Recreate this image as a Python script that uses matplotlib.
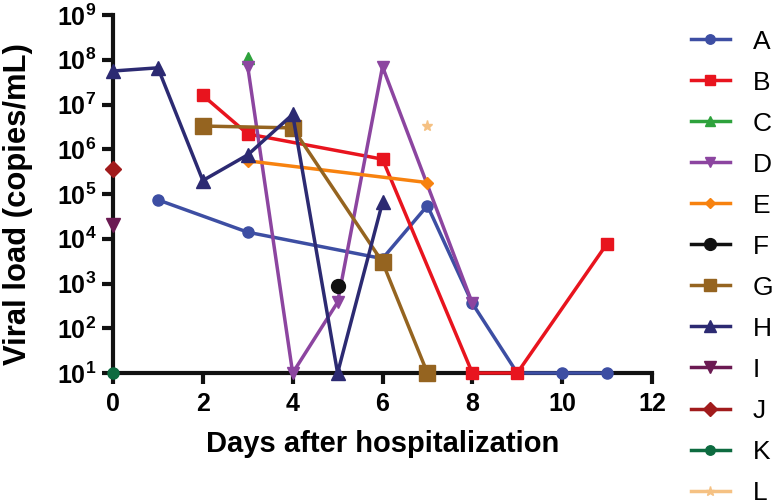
import numpy as np
import matplotlib
matplotlib.use("Agg")
import matplotlib.pyplot as plt
from matplotlib.ticker import FixedLocator, FuncFormatter

plt.rcParams['font.family'] = ['Liberation Sans', 'DejaVu Sans']
plt.rcParams['mathtext.fontset'] = 'custom'
plt.rcParams['mathtext.rm'] = 'Liberation Sans:bold'
plt.rcParams['mathtext.bf'] = 'Liberation Sans:bold'

# ---- data ----
names = ["A", "B", "C", "D", "E", "F", "G", "H", "I", "J", "K", "L"]
A_days = [1, 3, 6, 7, 8, 9, 10, 11]
A_vals = [7.4e4, 1.4e4, 3.6e3, 5.5e4, 3.6e2, 10, 10, 10]
B_days = [2, 3, 6, 8, 9, 11]
B_vals = [1.6e7, 2.2e6, 6.0e5, 10, 10, 7.8e3]
C_days = [3]
C_vals = [1.1e8]
D_days = [3, 4, 5, 6, 8]
D_vals = [7.0e7, 10, 3.8e2, 7.0e7, 3.6e2]
E_days = [3, 7]
E_vals = [5.5e5, 1.8e5]
F_days = [5]
F_vals = [9.0e2]
G_days = [2, 4, 6, 7]
G_vals = [3.3e6, 3.0e6, 3.0e3, 10]
H_days = [0, 1, 2, 3, 4, 5, 6]
H_vals = [5.6e7, 6.6e7, 2.0e5, 7.5e5, 6.0e6, 10, 6.5e4]
I_days = [0]
I_vals = [2.0e4]
J_days = [0]
J_vals = [3.6e5]
K_days = [0]
K_vals = [10]
L_days = [7]
L_vals = [3.3e6]

series_days = [A_days, B_days, C_days, D_days, E_days, F_days, G_days, H_days, I_days, J_days, K_days, L_days]
series_vals = [A_vals, B_vals, C_vals, D_vals, E_vals, F_vals, G_vals, H_vals, I_vals, J_vals, K_vals, L_vals]

colors = ["#3d4ea3", "#e8141e", "#2ea23c", "#8c45a0", "#f7820f", "#111111",
          "#956420", "#2c2a72", "#6b1a52", "#a11b1c", "#0d6b40", "#f5c183"]
markers = ["o", "s", "^", "v", "D", "o", "s", "^", "v", "D", "o", "*"]
msizes = [8, 9, 9, 9, 6, 10, 11, 10, 10, 8, 8, 8]

x_ticks = [0, 2, 4, 6, 8, 10, 12]
y_ticks = [1e1, 1e2, 1e3, 1e4, 1e5, 1e6, 1e7, 1e8, 1e9]

fig = plt.figure(figsize=(7.74, 5.04), dpi=100)
ax = fig.add_axes([113/774, 1 - 373/504, (652-113)/774, (373-15)/504])

for i, name in enumerate(names):
    ax.plot(series_days[i], series_vals[i], color=colors[i], marker=markers[i],
            markersize=msizes[i], linewidth=2.5, label=name, clip_on=False, zorder=3)

ax.set_yscale('log')
ax.set_xlim(0, 12)
ax.set_ylim(1e1, 1e9)
ax.xaxis.set_major_locator(FixedLocator(x_ticks))
ax.yaxis.set_major_locator(FixedLocator(y_ticks))
ax.yaxis.set_minor_locator(FixedLocator([]))
ax.yaxis.set_major_formatter(FuncFormatter(lambda v, p: r'$\mathbf{10^{%d}}$' % int(round(np.log10(v)))))
ax.xaxis.set_major_formatter(FuncFormatter(lambda v, p: '%d' % v))

for s in ['top', 'right']:
    ax.spines[s].set_visible(False)
for s in ['left', 'bottom']:
    ax.spines[s].set_linewidth(3)
    ax.spines[s].set_color('#111111')
ax.tick_params(axis='both', which='major', width=3, length=8, color='#111111',
               direction='out')
ax.tick_params(axis='x', labelsize=18, pad=6)
for lab in ax.get_xticklabels():
    lab.set_fontweight('bold')
ax.tick_params(axis='y', labelsize=18, pad=4)

ax.set_xlabel('Days after hospitalization', fontsize=21, fontweight='bold', labelpad=10)
ax.set_ylabel('Viral load (copies/mL)', fontsize=22.3, fontweight='bold')
ax.yaxis.set_label_coords(-0.149, (373 - 204) / 358)

handles, labels = ax.get_legend_handles_labels()
fig.legend(handles, labels, loc='upper left', bbox_to_anchor=(680/774, 1 - 19/504),
           frameon=False, fontsize=19, handlelength=1.5, handletextpad=0.85,
           labelspacing=0.645, borderaxespad=0, markerscale=0.85)

fig.savefig('out.png', dpi=100)
